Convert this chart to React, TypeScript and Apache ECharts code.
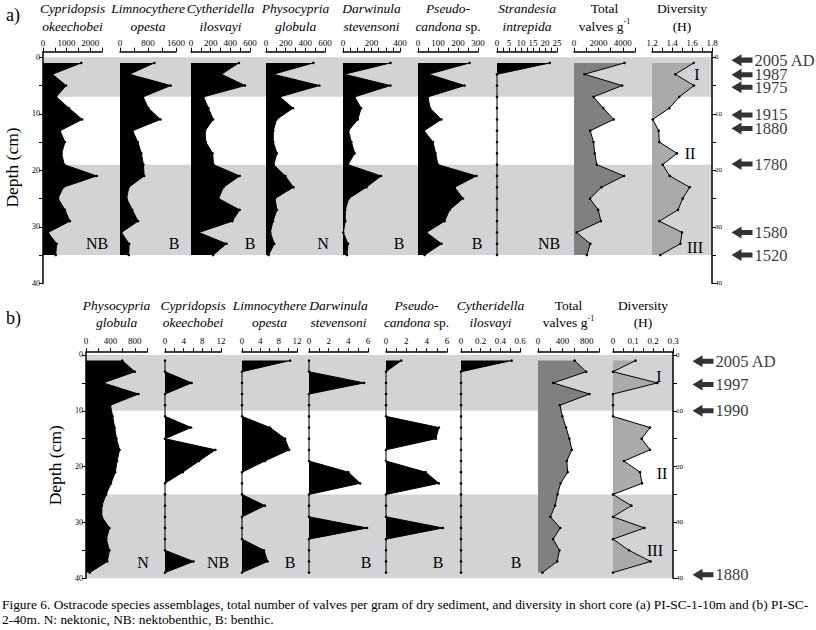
import React, { useEffect, useRef } from "react";
import * as echarts from "echarts";

const FONT = "'Liberation Serif', 'Times New Roman', Times, serif";

// ---------------- Core (a) PI-SC-1-10m ----------------
const depthsA = [1, 3, 5, 7, 9, 11, 13, 15, 17, 19, 21, 23, 25, 27, 29, 31, 33, 35];
const cypridopsisA = [1620, 400, 980, 560, 1100, 1660, 720, 930, 790, 900, 2280, 860, 640, 930, 1140, 215, 575, 540];
const limnocythereA = [980, 270, 1450, 660, 810, 1155, 360, 510, 610, 670, 690, 250, 190, 350, 516, 40, 260, 250];
const cytheridellaA = [487, 310, 550, 127, 177, 225, 143, 150, 220, 229, 495, 330, 280, 495, 420, 80, 360, 225];
const physocypriaA = [482, 74, 543, 141, 275, 107, 74, 74, 111, 78, 196, 279, 91, 111, 71, 44, 84, 27];
const darwinulaA = [333, 9, 333, 82, 127, 104, 38, 59, 82, 35, 267, 164, 40, 16, 16, 2, 35, 28];
const pseudocandonaA = [258, 53, 233, 50, 60, 117, 30, 75, 88, 100, 292, 183, 225, 158, 133, 42, 117, 33];
const strandesiaA = [22, 0, 0, 0, 0, 0, 0, 0, 0, 0, 0, 0, 0, 0, 0, 0, 0, 0];
const totalA = [4140, 860, 3950, 1600, 2400, 3260, 1330, 1600, 1700, 1870, 4100, 2250, 1310, 1980, 2210, 220, 1340, 1050];
const diversityA = [1.617, 1.433, 1.62, 1.473, 1.373, 1.207, 1.267, 1.273, 1.45, 1.307, 1.377, 1.577, 1.507, 1.46, 1.273, 1.5, 1.483, 1.283];
const zonesA = [[0, 7], [19, 35]];
const datesA = ["2005 AD", "1987", "1975", "1915", "1880", "1780", "1580", "1520"];
const dateDepthsA = [0.5, 3.1, 5.3, 10.2, 12.6, 18.9, 31, 35];
const zoneLabelDepthsA = [3.1, 17, 33.7];
const habitatsA = ["NB", "B", "B", "N", "B", "B", "NB"];

// ---------------- Core (b) PI-SC-2-40m ----------------
const depthsB = [1, 3, 5, 7, 9, 11, 13, 15, 17, 19, 21, 23, 25, 27, 29, 31, 33, 35, 37, 39];
const physocypriaB = [594, 800, 281, 860, 400, 437, 470, 500, 550, 510, 480, 410, 330, 260, 260, 384, 334, 384, 350, 62];
const cypridopsisB = [0, 0, 5.7, 0, 0, 0, 5.6, 0, 10.8, 7.3, 3.8, 0, 0, 0, 0, 0, 0, 0, 6.1, 0];
const limnocythereB = [10.5, 0, 0, 0, 0, 0, 6.1, 9.4, 10.3, 5.0, 0, 0, 0, 5.0, 0, 0, 0, 4.8, 5.6, 0];
const darwinulaB = [0, 0, 5.6, 0, 0, 0, 0, 0, 0, 0, 4.0, 5.2, 0, 0, 0, 5.9, 0, 0, 0, 0];
const pseudocandonaB = [1.5, 0, 0, 0, 0, 0, 5.2, 4.9, 0, 0, 3.9, 5.2, 0, 0, 0, 5.6, 0, 0, 0, 0];
const cytheridellaB = [0.515, 0, 0, 0, 0, 0, 0, 0, 0, 0, 0, 0, 0, 0, 0, 0, 0, 0, 0, 0];
const totalB = [600, 790, 250, 844, 360, 400, 460, 515, 555, 472, 486, 370, 320, 280, 204, 364, 248, 352, 315, 72];
const diversityB = [0.113, 0, 0.222, 0, 0, 0, 0.185, 0.143, 0.185, 0.055, 0.135, 0.145, 0, 0.092, 0, 0.157, 0, 0.08, 0.188, 0];
const zonesB = [[0, 10], [25, 40]];
const datesB = ["2005 AD", "1997", "1990", "1880"];
const dateDepthsB = [1.1, 5.3, 10, 39.4];
const zoneLabelDepthsB = [3.8, 21.2, 35.1];
const habitatsB = ["N", "NB", "B", "B", "B", "B"];

const zoneNames = ["I", "II", "III"];

// ---------------- Axis ticks & labels ----------------
const depthTicks = [0, 5, 10, 15, 20, 25, 30, 35, 40];
const depthLabels = [0, 10, 20, 30, 40];

const t2500 = [0, 500, 1000, 1500, 2000, 2500];
const l2500 = [0, 1000, 2000];
const t1600 = [0, 400, 800, 1200, 1600];
const l1600 = [0, 800, 1600];
const t600 = [0, 100, 200, 300, 400, 500, 600];
const l600 = [0, 200, 400, 600];
const t400 = [0, 50, 100, 150, 200, 250, 300, 350, 400];
const l400 = [0, 200, 400];
const t300 = [0, 50, 100, 150, 200, 250, 300];
const l300 = [0, 100, 200, 300];
const t25 = [0, 2.5, 5, 7.5, 10, 12.5, 15, 17.5, 20, 22.5, 25];
const l25 = [0, 5, 10, 15, 20, 25];
const t5000 = [0, 1000, 2000, 3000, 4000, 5000];
const l5000 = [0, 2000, 4000];
const tH18 = [1.2, 1.3, 1.4, 1.5, 1.6, 1.7, 1.8];
const lH18 = [1.2, 1.4, 1.6, 1.8];
const t1000 = [0, 200, 400, 600, 800, 1000];
const l1000 = [0, 400, 800];
const t12 = [0, 2, 4, 6, 8, 10, 12];
const l12 = [0, 4, 8, 12];
const t6 = [0, 1, 2, 3, 4, 5, 6];
const l6 = [0, 2, 4, 6];
const t06 = [0, 0.1, 0.2, 0.3, 0.4, 0.5, 0.6];
const l06 = [0, 0.2, 0.4, 0.6];
const tH03 = [0, 0.05, 0.1, 0.15, 0.2, 0.25, 0.3];
const lH03 = [0, 0.1, 0.2, 0.3];

const BLACK = "#000000";
const BAND = "#d3d3d5";
const TOTAL_FILL = "#808080";
const DIV_FILL = "#aaaaaa";

const titleCyp = "{i|Cypridopsis}\n{i|okeechobei}";
const titleLim = "{i|Limnocythere}\n{i|opesta}";
const titleCyt = "{i|Cytheridella}\n{i|ilosvayi}";
const titlePhy = "{i|Physocypria}\n{i|globula}";
const titleDar = "{i|Darwinula}\n{i|stevensoni}";
const titlePse = "{i|Pseudo-}\n{i|candona} sp.";
const titleStr = "{i|Strandesia}\n{i|intrepida}";
const titleTot = "Total\nvalves g{s|-1}";
const titleDiv = "Diversity\n(H)";

const STEP = 0.5;

type Col = {
  title: string; x0: number; x1: number; min: number; max: number;
  ticks: number[]; labels: number[]; values: number[]; fill: string; letterX?: number;
};

const colsA: Col[] = [
  { title: titleCyp, x0: 43, x1: 102, min: 0, max: 2500, ticks: t2500, labels: l2500, values: cypridopsisA, fill: BLACK, letterX: 97 },
  { title: titleLim, x0: 120, x1: 176, min: 0, max: 1600, ticks: t1600, labels: l1600, values: limnocythereA, fill: BLACK, letterX: 174 },
  { title: titleCyt, x0: 191, x1: 250, min: 0, max: 600, ticks: t600, labels: l600, values: cytheridellaA, fill: BLACK, letterX: 250 },
  { title: titlePhy, x0: 266, x1: 325, min: 0, max: 600, ticks: t600, labels: l600, values: physocypriaA, fill: BLACK, letterX: 323 },
  { title: titleDar, x0: 343, x1: 400, min: 0, max: 400, ticks: t400, labels: l400, values: darwinulaA, fill: BLACK, letterX: 399 },
  { title: titlePse, x0: 418, x1: 478, min: 0, max: 300, ticks: t300, labels: l300, values: pseudocandonaA, fill: BLACK, letterX: 477 },
  { title: titleStr, x0: 497, x1: 557, min: 0, max: 25, ticks: t25, labels: l25, values: strandesiaA, fill: BLACK, letterX: 549 },
  { title: titleTot, x0: 574, x1: 635, min: 0, max: 5000, ticks: t5000, labels: l5000, values: totalA, fill: TOTAL_FILL },
  { title: titleDiv, x0: 652, x1: 712, min: 1.2, max: 1.8, ticks: tH18, labels: lH18, values: diversityA, fill: DIV_FILL },
];

const colsB: Col[] = [
  { title: titlePhy, x0: 86, x1: 147, min: 0, max: 1000, ticks: t1000, labels: l1000, values: physocypriaB, fill: BLACK, letterX: 143 },
  { title: titleCyp, x0: 165, x1: 221, min: 0, max: 12, ticks: t12, labels: l12, values: cypridopsisB, fill: BLACK, letterX: 218 },
  { title: titleLim, x0: 242, x1: 297, min: 0, max: 12, ticks: t12, labels: l12, values: limnocythereB, fill: BLACK, letterX: 290 },
  { title: titleDar, x0: 309, x1: 368, min: 0, max: 6, ticks: t6, labels: l6, values: darwinulaB, fill: BLACK, letterX: 366 },
  { title: titlePse, x0: 386, x1: 447, min: 0, max: 6, ticks: t6, labels: l6, values: pseudocandonaB, fill: BLACK, letterX: 438 },
  { title: titleCyt, x0: 461, x1: 520, min: 0, max: 0.6, ticks: t06, labels: l06, values: cytheridellaB, fill: BLACK, letterX: 516 },
  { title: titleTot, x0: 538, x1: 599, min: 0, max: 1000, ticks: t1000, labels: l1000, values: totalB, fill: TOTAL_FILL },
  { title: titleDiv, x0: 613, x1: 673, min: 0, max: 0.3, ticks: tH03, labels: lH03, values: diversityB, fill: DIV_FILL },
];

type Panel = {
  left: number; right: number; top: number; bottom: number; yMin: number;
  labelMargin: number; titleGap: number; depthNameGap: number; arrowX: number;
  depths: number[]; cols: Col[]; zones: number[][]; dates: string[]; dateDepths: number[];
  zoneLabelDepths: number[]; zoneLabelX: number[]; habitats: string[]; habitatDepth: number;
  tag: string; tagY: number;
};

const panelA: Panel = {
  left: 43, right: 712, top: 51.65, bottom: 283.3, yMin: -1,
  labelMargin: 4, titleGap: 16.5, depthNameGap: 19.5, arrowX: 742,
  depths: depthsA, cols: colsA, zones: zonesA, dates: datesA, dateDepths: dateDepthsA,
  zoneLabelDepths: zoneLabelDepthsA, zoneLabelX: [697, 690, 695], habitats: habitatsA, habitatDepth: 32.9,
  tag: "a)", tagY: 15,
};

const panelB: Panel = {
  left: 86, right: 673, top: 352.2, bottom: 578.2, yMin: -0.5,
  labelMargin: 7, titleGap: 20.5, depthNameGap: 20, arrowX: 703,
  depths: depthsB, cols: colsB, zones: zonesB, dates: datesB, dateDepths: dateDepthsB,
  zoneLabelDepths: zoneLabelDepthsB, zoneLabelX: [659, 662, 655], habitats: habitatsB, habitatDepth: 37.1,
  tag: "b)", tagY: 318,
};

const nameStyle = {
  fontFamily: FONT, fontSize: 13.5, color: BLACK, lineHeight: 17.5,
  rich: {
    i: { fontFamily: FONT, fontSize: 13.5, fontStyle: "italic", color: BLACK, lineHeight: 17.5 },
    s: { fontFamily: FONT, fontSize: 8, color: BLACK, verticalAlign: "top", lineHeight: 17.5 },
  },
};

function fmt(v: number) {
  return String(Math.round(v * 1000) / 1000);
}

function buildOption() {
  const grid: any[] = [];
  const xAxis: any[] = [];
  const yAxis: any[] = [];
  const series: any[] = [];
  const graphic: any[] = [];

  const addPanel = (p: Panel) => {
    const h = p.bottom - p.top;
    const yPx = (d: number) => p.top + ((d - p.yMin) / (40 - p.yMin)) * h;
    const cats: string[] = [];
    for (let i = 0; i <= (40 - p.yMin) / STEP; i++) cats.push(String(p.yMin + i * STEP));

    // background grid with depth axes and zones
    const g0 = grid.length;
    grid.push({ left: p.left, top: p.top, width: p.right - p.left, height: h, outerBoundsMode: "none" });
    const bx = xAxis.length;
    xAxis.push({ gridIndex: g0, type: "value", min: 0, max: 1, show: false });
    const by = yAxis.length;
    const depthAxisBase = {
      gridIndex: g0, type: "value", min: p.yMin, max: 40, inverse: true, z: 10,
      axisLine: { show: true, onZero: false, lineStyle: { color: BLACK, width: 1.5 } },
      axisTick: { show: true, customValues: depthTicks, length: 4, lineStyle: { color: BLACK, width: 1 } },
      splitLine: { show: false },
    };
    yAxis.push({
      ...depthAxisBase, position: "left",
      axisLabel: { show: true, customValues: depthLabels, fontSize: 8, color: BLACK, fontFamily: FONT, margin: 3 },
      name: "Depth (cm)", nameLocation: "middle", nameGap: p.depthNameGap, nameRotate: 90,
      nameTextStyle: { fontSize: 17.5, fontFamily: FONT, color: BLACK },
    });
    yAxis.push({
      ...depthAxisBase, position: "right",
      axisLabel: { show: true, customValues: depthLabels, fontSize: 7, color: BLACK, fontFamily: FONT, margin: 3 },
    });
    series.push({
      type: "line", xAxisIndex: bx, yAxisIndex: by, data: [], silent: true, z: 1,
      markArea: {
        silent: true, z: 1, itemStyle: { color: BAND, opacity: 1 },
        data: p.zones.map(([a, b]) => [{ yAxis: a }, { yAxis: b }]),
      },
    });
    // dating arrows
    series.push({
      type: "scatter", xAxisIndex: bx, yAxisIndex: by, clip: false, silent: true, z: 6,
      symbol: "path://M0,6L10,0L10,3.5L21,3.5L21,8.5L10,8.5L10,12Z", symbolSize: [21, 12],
      itemStyle: { color: BLACK },
      label: {
        show: true, position: "right", distance: 2, formatter: "{b}",
        fontSize: 16.5, lineHeight: 12, fontFamily: FONT, color: BLACK,
      },
      data: p.dates.map((t, i) => ({ name: t, value: [(p.arrowX - p.left) / (p.right - p.left), p.dateDepths[i]] })),
    });

    p.cols.forEach((c) => {
      const gi = grid.length;
      grid.push({ left: c.x0, top: p.top, width: c.x1 - c.x0, height: h, outerBoundsMode: "none" });
      const xi = xAxis.length;
      xAxis.push({
        gridIndex: gi, type: "value", position: "top", min: c.min, max: c.max, z: 10,
        axisLine: { show: true, onZero: false, lineStyle: { color: BLACK, width: 1.5 } },
        axisTick: { show: true, customValues: c.ticks, length: 4, lineStyle: { color: BLACK, width: 1 } },
        axisLabel: { show: true, customValues: c.labels, fontSize: 9, color: BLACK, fontFamily: FONT, margin: p.labelMargin, formatter: (v: number) => fmt(v) },
        splitLine: { show: false },
        name: c.title, nameLocation: "middle", nameGap: p.titleGap, nameTextStyle: nameStyle,
      });
      const yi = yAxis.length;
      yAxis.push({ gridIndex: gi, type: "category", data: cats, inverse: true, boundaryGap: false, show: false });
      series.push({
        type: "line", xAxisIndex: xi, yAxisIndex: yi, z: 3, silent: true, clip: false,
        data: p.depths.map((d, i) => [c.values[i], (d - p.yMin) / STEP]),
        symbol: "circle", symbolSize: 2.6, showSymbol: true, showAllSymbol: true,
        itemStyle: { color: BLACK }, lineStyle: { color: BLACK, width: 1 },
        areaStyle: { color: c.fill, opacity: 1, origin: "start" },
      });
    });

    // habitat letters
    p.habitats.forEach((t, i) => {
      graphic.push({
        type: "text", x: p.cols[i].letterX, y: yPx(p.habitatDepth), z: 20,
        style: { text: t, fill: BLACK, font: `16px ${FONT}`, textAlign: "center", textVerticalAlign: "middle" },
      });
    });
    // zone numerals
    zoneNames.forEach((t, i) => {
      graphic.push({
        type: "text", x: p.zoneLabelX[i], y: yPx(p.zoneLabelDepths[i]), z: 20,
        style: { text: t, fill: BLACK, font: `16px ${FONT}`, textAlign: "center", textVerticalAlign: "middle" },
      });
    });
    graphic.push({
      type: "text", x: 6, y: p.tagY, z: 20,
      style: { text: p.tag, fill: BLACK, font: `18px ${FONT}`, textAlign: "left", textVerticalAlign: "middle" },
    });
  };

  addPanel(panelA);
  addPanel(panelB);

  graphic.push({
    type: "text", x: 2, y: 604, z: 20,
    style: {
      text: "Figure 6. Ostracode species assemblages, total number of valves per gram of dry sediment, and diversity in short core (a) PI-SC-1-10m and (b) PI-SC-",
      fill: BLACK, font: `13.4px ${FONT}`, textAlign: "left", textVerticalAlign: "middle",
    },
  });
  graphic.push({
    type: "text", x: 2, y: 619, z: 20,
    style: {
      text: "2-40m. N: nektonic, NB: nektobenthic, B: benthic.",
      fill: BLACK, font: `13.4px ${FONT}`, textAlign: "left", textVerticalAlign: "middle",
    },
  });

  return {
    animation: false,
    backgroundColor: "#ffffff",
    textStyle: { fontFamily: FONT },
    grid, xAxis, yAxis, series, graphic,
  };
}

export default function App() {
  const ref = useRef<HTMLDivElement>(null);
  useEffect(() => {
    if (!ref.current) return;
    const chart = echarts.init(ref.current, undefined, { renderer: "svg" });
    chart.setOption(buildOption() as any);
    return () => chart.dispose();
  }, []);
  return (
    <div
      ref={ref}
      style={{ position: "absolute", left: 0, top: 0, width: 816, height: 630, background: "#fff" }}
    />
  );
}
